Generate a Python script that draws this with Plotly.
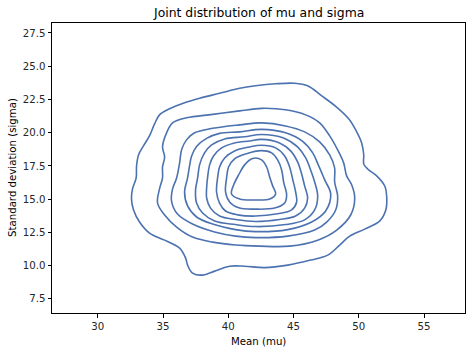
import plotly.graph_objects as go

# Contour levels of the joint KDE of (mu, sigma), outer -> inner
c0_x = [32.94, 32.97, 33.12, 33.50, 33.96, 34.35, 34.73, 35.50, 36.65, 37.80, 39.33, 40.87, 42.09, 43.63, 45.08, 46.08,
        47.16, 48.23, 49.23, 49.84, 50.22, 50.38, 50.38, 50.68, 51.37, 51.99, 52.14, 52.07, 51.60, 50.45, 49.30, 48.54,
        47.62, 46.31, 44.55, 42.78, 41.25, 40.10, 38.95, 38.03, 37.26, 36.88, 36.73, 36.27, 35.12, 33.96, 33.20, 32.74,
        32.58, 32.66]
c0_y = [16.60, 17.50, 18.33, 19.01, 19.76, 20.66, 21.34, 21.80, 22.25, 22.59, 22.96, 23.34, 23.53, 23.68, 23.72, 23.53,
        22.77, 21.98, 21.04, 20.06, 19.23, 18.33, 17.65, 17.27, 16.75, 15.99, 15.16, 14.18, 13.35, 12.75, 12.22, 11.55,
        10.79, 10.42, 10.04, 9.85, 9.96, 9.96, 9.59, 9.29, 9.44, 10.04, 10.57, 11.32, 11.92, 12.45, 13.28, 14.19,
        15.01, 15.77]

c1_x = [34.96, 34.96, 35.12, 34.96, 35.27, 35.73, 36.80, 38.80, 40.87, 42.55, 44.39, 45.93, 47.00, 47.77, 48.38, 48.84,
        49.07, 49.46, 49.69, 49.38, 48.31, 46.85, 44.70, 42.40, 40.56, 38.80, 37.26, 36.04, 35.12, 34.58, 34.73]
c1_y = [16.60, 17.42, 18.18, 18.93, 19.99, 20.74, 21.12, 21.38, 21.64, 21.83, 21.72, 21.34, 20.74, 19.76, 18.71, 17.73,
        16.75, 16.07, 15.09, 13.81, 12.68, 11.92, 11.47, 11.47, 11.55, 11.77, 12.15, 12.90, 13.81, 14.71, 15.77]

c2_x = [36.04, 36.27, 36.42, 36.80, 37.42, 38.80, 40.87, 42.55, 44.39, 45.85, 47.00, 47.77, 48.15, 48.15, 48.38, 48.23,
        47.54, 46.62, 44.55, 42.09, 40.56, 38.95, 37.26, 36.11, 35.65, 35.73]
c2_y = [16.60, 17.73, 18.71, 19.46, 19.99, 20.33, 20.59, 20.74, 20.51, 20.06, 19.31, 18.33, 17.35, 16.29, 15.24, 14.19,
        13.28, 12.68, 12.22, 12.11, 12.22, 12.53, 13.13, 13.88, 14.86, 15.77]

c3_x = [36.88, 37.03, 37.19, 37.57, 38.34, 39.33, 40.87, 42.55, 44.39, 45.70, 46.47, 46.93, 47.39, 47.85, 47.46, 46.39,
        44.55, 42.09, 40.56, 38.80, 37.57, 36.88, 36.65]
c3_y = [16.60, 17.50, 18.25, 18.97, 19.57, 19.95, 20.06, 20.25, 19.99, 19.35, 18.48, 17.50, 16.45, 15.39, 14.11, 13.28,
        12.71, 12.56, 12.71, 13.13, 13.66, 14.49, 15.54]

c4_x = [37.65, 37.80, 38.18, 38.72, 39.72, 41.25, 42.55, 44.24, 45.31, 45.93, 46.31, 46.62, 46.85, 46.62, 45.85, 44.39,
        42.09, 40.56, 38.95, 38.03, 37.57, 37.49]
c4_y = [16.60, 17.58, 18.48, 19.08, 19.53, 19.69, 19.87, 19.61, 18.93, 18.10, 17.20, 16.29, 15.24, 14.19, 13.44, 13.09,
        12.94, 13.09, 13.36, 13.96, 14.71, 15.69]

c5_x = [38.41, 38.57, 38.87, 39.49, 40.48, 41.63, 42.55, 43.93, 44.78, 45.31, 45.62, 45.85, 46.08, 45.85, 45.16, 43.93,
        42.09, 40.56, 39.33, 38.64, 38.34, 38.34]
c5_y = [16.60, 17.58, 18.25, 18.86, 19.23, 19.38, 19.50, 19.23, 18.63, 17.80, 16.90, 16.00, 15.09, 14.33, 13.73, 13.47,
        13.32, 13.47, 13.73, 14.33, 15.09, 15.84]

c6_x = [39.18, 39.33, 39.72, 40.48, 41.63, 42.55, 43.63, 44.32, 44.70, 44.93, 45.16, 45.24, 44.85, 43.78, 42.09, 40.71,
        39.79, 39.33, 39.10]
c6_y = [16.60, 17.42, 18.10, 18.63, 18.93, 19.06, 18.86, 18.25, 17.42, 16.52, 15.54, 14.79, 14.19, 13.90, 13.73, 13.82,
        14.11, 14.71, 15.54]

c7_x = [39.87, 40.02, 40.48, 41.33, 42.55, 43.32, 43.78, 44.09, 44.24, 44.47, 44.32, 43.55, 42.09, 40.87, 40.10, 39.79]
c7_y = [16.60, 17.42, 18.03, 18.40, 18.65, 18.48, 17.96, 17.20, 16.29, 15.31, 14.71, 14.33, 14.25, 14.33, 14.79, 15.54]

c8_x = [41.86, 42.55, 42.94, 43.17, 43.40, 43.63, 43.17, 42.02, 40.87, 40.25, 40.41, 40.79, 41.25]
c8_y = [18.06, 17.96, 17.42, 16.67, 16.00, 15.39, 15.01, 14.94, 15.01, 15.39, 16.07, 16.82, 17.58]

contours = [(c0_x, c0_y), (c1_x, c1_y), (c2_x, c2_y), (c3_x, c3_y), (c4_x, c4_y),
            (c5_x, c5_y), (c6_x, c6_y), (c7_x, c7_y), (c8_x, c8_y)]

x_ticks = [30, 35, 40, 45, 50, 55]
y_ticks = [7.5, 10.0, 12.5, 15.0, 17.5, 20.0, 22.5, 25.0, 27.5]
x_range = [26.49, 58.14]
y_range = [6.44, 28.25]

LINE = "#4c72b0"
FONT = "DejaVu Sans"

fig = go.Figure()
for cx, cy in contours:
    fig.add_trace(go.Scatter(
        x=list(cx) + [cx[0]], y=list(cy) + [cy[0]],
        mode="lines", line=dict(color=LINE, width=1.6, shape="spline", smoothing=1.0),
        hoverinfo="skip", showlegend=False))

axis_common = dict(showgrid=False, zeroline=False, showline=True, linecolor="black", linewidth=1,
                   mirror=True, ticks="outside", ticklen=3.5, tickwidth=1, tickcolor="black",
                   tickfont=dict(family=FONT, size=10.2, color="#262626"))

fig.update_xaxes(range=x_range, tickvals=x_ticks, ticktext=[str(v) for v in x_ticks], **axis_common)
fig.update_yaxes(range=y_range, tickvals=y_ticks, ticktext=[f"{v:.1f}" for v in y_ticks], **axis_common)

fig.update_layout(
    width=472, height=352,
    margin=dict(l=52, r=7, t=23, b=39),
    paper_bgcolor="white", plot_bgcolor="white",
    font=dict(family=FONT, color="#262626"),
    annotations=[
        dict(text="Joint distribution of mu and sigma", xref="paper", yref="paper", x=0.5, y=1,
             yshift=11, showarrow=False, font=dict(family=FONT, size=12.4, color="black"),
             xanchor="center", yanchor="middle"),
        dict(text="Mean (mu)", xref="paper", yref="paper", x=0.5, y=0, yshift=-28,
             showarrow=False, font=dict(family=FONT, size=10.2, color="black"),
             xanchor="center", yanchor="middle"),
        dict(text="Standard deviation (sigma)", xref="paper", yref="paper", x=0, y=0.5, xshift=-40,
             textangle=-90, showarrow=False, font=dict(family=FONT, size=10.2, color="black"),
             xanchor="center", yanchor="middle"),
    ],
)

fig.write_html("out.html")
